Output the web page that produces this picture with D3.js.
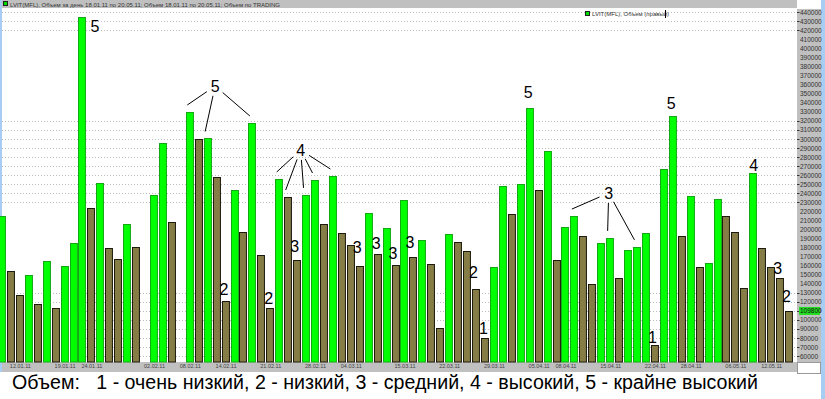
<!DOCTYPE html>
<html>
<head>
<meta charset="utf-8">
<script src="https://cdn.jsdelivr.net/npm/d3@7"></script>
<style>
body { margin: 0; background: #fff; }
svg { display: block; font-family: "Liberation Sans", Arial, sans-serif; }
</style>
</head>
<body>
<svg width="825" height="399"></svg>
<script>
// daily volume (null = no bar that day)
const volume = [214800, 154000, 127400, 149600, 117500, 165000, 113100, 159500, 184900, 434800,
    223600, 251300, 179400, 167200, 205900, 180500, null, 238000, 295500, 208200,
    null, 329800, 299900, 300500, 257900, 120800, 243500, 197100, 317600, 171700,
    113000, 255700, 235800, 166100, 238100, 254600, 206000, 259000, 196000, 182700,
    159400, 218100, 172800, 201500, 160600, 232500, 169500, 188300, 161700, 91000,
    194900, 186000, 176100, 134100, 79900, 158400, 248000, 217000, 250200, 334200,
    243400, 286700, 166200, 202600, 214700, 192700, 139600, 185000, 190500, 146200,
    177200, 180600, 195900, 72200, 266800, 325300, 192600, 236900, 158300, 162800,
    233600, 214900, 197000, 135200, 262300, 179500, 158500, 146300, 109800];

// u = up day (green), d = down day (olive)
const direction = ["u","d","d","u","d","u","d","u","u","u",
    "d","u","d","d","u","d",null,"u","u","d",
    null,"u","d","u","d","d","u","d","u","d",
    "d","u","d","d","u","u","d","u","d","d",
    "d","u","d","u","d","u","d","u","d","d",
    "u","d","d","d","d","u","u","d","u","u",
    "d","u","d","u","u","d","d","u","u","d",
    "u","u","u","d","u","u","d","u","d","u",
    "u","d","d","d","u","d","d","d","d"];

// right axis ticks
const yTicks = d3.range(440000, 50000, -10000);
const gridTicks = [440000, 430000, 420000,
    320000, 310000, 300000, 290000, 280000, 270000, 260000, 250000, 240000, 230000,
    130000, 120000, 110000, 100000, 90000, 80000, 70000, 60000];

// date ticks on the time axis (bar index, label)
const dateTickBars = [2, 7, 10, 17, 21, 25, 30, 35, 39, 45, 50, 55, 60, 63, 68, 73, 77, 82, 86];
const dateTickLabels = ["12.01.11", "19.01.11", "24.01.11", "02.02.11", "08.02.11",
    "14.02.11", "21.02.11", "28.02.11", "04.03.11", "15.03.11", "22.03.11", "29.03.11",
    "05.04.11", "08.04.11", "15.04.11", "22.04.11", "28.04.11", "06.05.11", "12.05.11"];

// volume grade notes: single bars
const notes = [
    {bar: 9, text: "5", dx: 13, dy: 9},
    {bar: 25, text: "2", dx: -1, dy: -12},
    {bar: 30, text: "2", dx: -1, dy: -10},
    {bar: 33, text: "3", dx: -2, dy: -14},
    {bar: 40, text: "3", dx: -2, dy: -19},
    {bar: 42, text: "3", dx: -1, dy: -11},
    {bar: 44, text: "3", dx: -2, dy: -12},
    {bar: 46, text: "3", dx: -3, dy: -15},
    {bar: 53, text: "2", dx: -2, dy: -17},
    {bar: 54, text: "1", dx: -1, dy: -10},
    {bar: 59, text: "5", dx: -1, dy: -16},
    {bar: 73, text: "1", dx: -2, dy: -8},
    {bar: 75, text: "5", dx: -1, dy: -13},
    {bar: 84, text: "4", dx: 1, dy: -8},
    {bar: 87, text: "3", dx: -2, dy: -10},
    {bar: 88, text: "2", dx: -2, dy: -15}
];
// notes with leader lines to several bars
const groupNotes = [
    {text: "5", bar: 24, dx: -1, level: 358500, targets: [21, 23, 28]},
    {text: "4", bar: 33, dx: 4, level: 287800, targets: [31, 32, 34, 35, 37]},
    {text: "3", bar: 67, dx: 8, level: 240200, targets: [64, 68, 71]}
];

const caption = "Объем:   1 - очень низкий, 2 - низкий, 3 - средний, 4 - высокий, 5 - крайне высокий";

let svg = d3.select("svg"),
    plot = {left: 2, right: 797, top: 9, bottom: 362};

let xScale = d3.scaleBand()
    .domain(d3.range(volume.length))
    .range([-2, 794])
    .paddingInner(0);
let yScale = d3.scaleLinear()
    .domain([60000, 440000])
    .range([356, 12.3]);
let colorScale = d3.scaleOrdinal()
    .domain(["u", "d"])
    .range(["#00ff00", "#857c46"]);
let edgeScale = d3.scaleOrdinal()
    .domain(["u", "d"])
    .range(["#14a814", "#1c1a0c"]);

// frame pieces
svg.append("rect").attr("x", 0).attr("y", 0).attr("width", plot.right).attr("height", 8).attr("fill", "#c0c0c0");
svg.append("rect").attr("x", plot.right).attr("y", 9).attr("width", 24).attr("height", plot.bottom - 9).attr("fill", "#c0c0c0");
svg.append("rect").attr("x", 0).attr("y", plot.bottom).attr("width", plot.right).attr("height", 10).attr("fill", "#c0c0c0");
svg.append("rect").attr("x", 0).attr("y", 0).attr("width", 2).attr("height", 372).attr("fill", "#a8cdf2");
svg.append("rect").attr("x", 821).attr("y", 0).attr("width", 4).attr("height", 399).attr("fill", "#a8cdf2");

// header
svg.append("rect").attr("x", 3.5).attr("y", 1.5).attr("width", 4).attr("height", 4)
    .attr("fill", "#00e000").attr("stroke", "#222");
svg.append("text")
    .attr("x", 10).attr("y", 6.5)
    .attr("font-size", "6px").attr("fill", "#333")
    .text("LVIT(MFL), Объем за день 18.01.11 по 20.05.11; Объем 18.01.11 по 20.05.11; Объем по TRADING");

// grid
svg.append("g")
    .selectAll("line")
    .data(gridTicks)
    .join("line")
    .attr("x1", plot.left).attr("x2", plot.right)
    .attr("y1", d => Math.round(yScale(d)) + 0.5)
    .attr("y2", d => Math.round(yScale(d)) + 0.5)
    .attr("stroke", "#bcbcbc")
    .attr("stroke-dasharray", "1,2");

// legend
svg.append("rect").attr("x", 585.5).attr("y", 11.5).attr("width", 4).attr("height", 4)
    .attr("fill", "#00e000").attr("stroke", "#222");
svg.append("text")
    .attr("x", 592).attr("y", 16)
    .attr("font-size", "6px").attr("fill", "#333")
    .text("LVIT(MFL), Объем (правый)");
svg.append("line").attr("x1", 665.5).attr("x2", 665.5).attr("y1", 10).attr("y2", 18).attr("stroke", "#000");

// bars
let bars = volume.map((v, i) => ({i: i, v: v, dir: direction[i]})).filter(d => d.v !== null);
svg.append("g")
    .selectAll("rect")
    .data(bars)
    .join("rect")
    .attr("x", d => Math.round(xScale(d.i)) + 0.5)
    .attr("y", d => Math.round(yScale(d.v)) + 0.5)
    .attr("width", xScale.bandwidth() - 2)
    .attr("height", d => plot.bottom - Math.round(yScale(d.v)) - 0.5)
    .attr("fill", d => colorScale(d.dir))
    .attr("stroke", d => edgeScale(d.dir))
    .attr("stroke-width", 1);

// right axis
let yAxis = svg.append("g")
    .attr("transform", "translate(" + plot.right + ",0)")
    .call(d3.axisRight(yScale).tickValues(yTicks).tickSize(0).tickPadding(3).tickFormat(d3.format("d")));
yAxis.select(".domain").remove();
yAxis.selectAll("text").attr("font-size", "6.5px").attr("fill", "#333").attr("font-family", "Liberation Sans, Arial");
svg.append("g")
    .selectAll("line")
    .data(gridTicks)
    .join("line")
    .attr("x1", plot.right).attr("x2", plot.right + 2.5)
    .attr("y1", d => Math.round(yScale(d)) + 0.5)
    .attr("y2", d => Math.round(yScale(d)) + 0.5)
    .attr("stroke", "#333");

// last value marker
let last = volume[volume.length - 1];
svg.append("rect")
    .attr("x", plot.right + 2).attr("y", yScale(last) - 4)
    .attr("width", 21).attr("height", 8)
    .attr("fill", "#22dd22");
svg.append("text")
    .attr("x", plot.right + 3).attr("y", yScale(last) + 2.3)
    .attr("font-size", "6.5px").attr("fill", "#111")
    .text(d3.format("d")(last));

// white corner box under the axis
svg.append("rect").attr("x", plot.right + 0.5).attr("y", plot.bottom + 0.5).attr("width", 23).attr("height", 11)
    .attr("fill", "#fff").attr("stroke", "#999");

// time axis
let xAxis = svg.append("g")
    .attr("transform", "translate(0," + plot.bottom + ")")
    .call(d3.axisBottom(xScale)
        .tickValues(dateTickBars)
        .tickSize(0)
        .tickPadding(2)
        .tickFormat((d, k) => dateTickLabels[k]));
xAxis.select(".domain").remove();
xAxis.selectAll("text").attr("font-size", "5.5px").attr("fill", "#444").attr("font-family", "Liberation Sans, Arial");

// grade notes
let center = i => xScale(i) + xScale.bandwidth() / 2 - 1;
svg.append("g")
    .selectAll("text")
    .data(notes)
    .join("text")
    .attr("x", d => center(d.bar) + d.dx)
    .attr("y", d => yScale(volume[d.bar]) + d.dy)
    .attr("dy", "0.36em")
    .attr("text-anchor", "middle")
    .attr("font-size", "16px")
    .attr("fill", "#000")
    .text(d => d.text);

groupNotes.forEach(g => {
    let lx = center(g.bar) + g.dx,
        ly = yScale(g.level);
    svg.append("text")
        .attr("x", lx).attr("y", ly)
        .attr("dy", "0.36em")
        .attr("text-anchor", "middle")
        .attr("font-size", "16px")
        .attr("fill", "#000")
        .text(g.text);
    g.targets.forEach(t => {
        let ex = center(t) - 2,
            ey = yScale(volume[t]) - 7,
            len = Math.hypot(ex - lx, ey - ly);
        svg.append("line")
            .attr("x1", lx + (ex - lx) / len * 10)
            .attr("y1", ly + (ey - ly) / len * 10)
            .attr("x2", ex).attr("y2", ey)
            .attr("stroke", "#000")
            .attr("stroke-width", 1);
    });
});

// caption
svg.append("text")
    .attr("x", 12).attr("y", 389)
    .attr("font-size", "20px")
    .attr("fill", "#000")
    .style("white-space", "pre")
    .attr("textLength", 746)
    .attr("lengthAdjust", "spacingAndGlyphs")
    .text(caption);
</script>
</body>
</html>
